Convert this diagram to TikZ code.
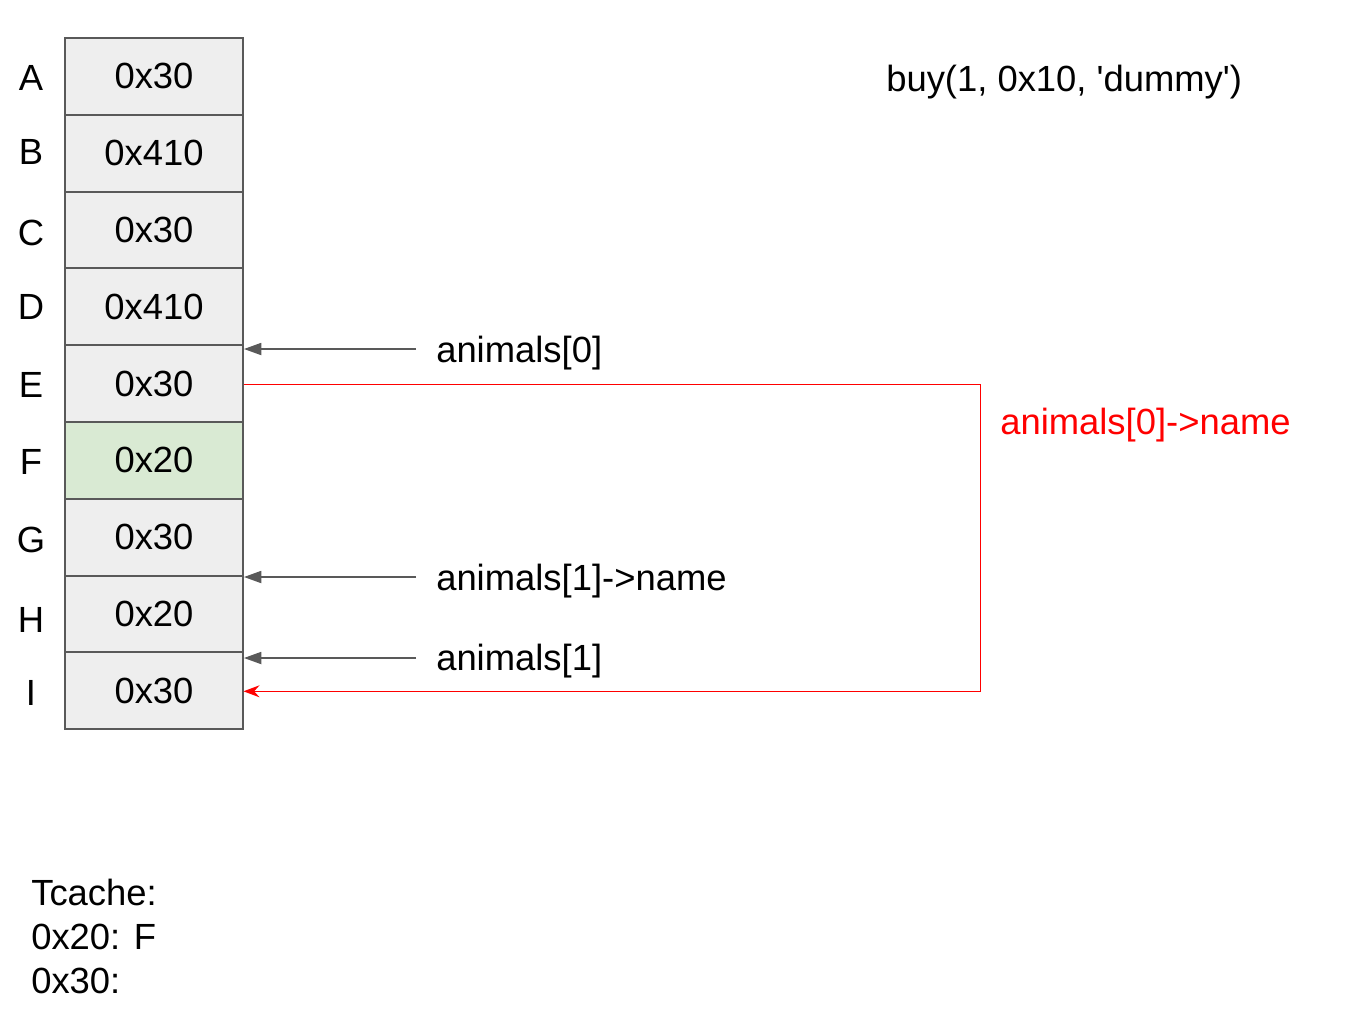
\documentclass[tikz,border=0pt]{standalone}
\usepackage{fontspec}
\setmainfont{Liberation Sans}[Ligatures=TeXOff]
\usetikzlibrary{arrows.meta}
\definecolor{cellgray}{HTML}{EEEEEE}
\definecolor{cellgreen}{HTML}{D9EAD3}
\definecolor{edgegray}{HTML}{595959}
\definecolor{redline}{HTML}{FF0000}
\begin{document}
\begin{tikzpicture}[x=0.75pt,y=-0.75pt,
  every node/.style={font=\fontsize{27.3}{33}\selectfont, inner sep=0pt},
  cell/.style={draw=edgegray, line width=1.4pt, fill=cellgray,
    minimum width=133.5pt, minimum height=57.6pt, anchor=center},
  greencell/.style={cell, fill=cellgreen},
  rowlabel/.style={anchor=base},
  txt/.style={anchor=base west},
  ptr/.style={draw=edgegray, line width=1.3pt, -{Triangle[length=13pt,width=9pt]}},
  redptr/.style={draw=redline, line width=1.2pt, -{Stealth[length=12pt,width=9pt,inset=4pt]}}
]
\useasboundingbox (0,0) rectangle (1360,1022);
% cells
\node[cell] (A) at (154,76.4) {0x30};
\node[cell] (B) at (154,153.2) {0x410};
\node[cell] (C) at (154,230.0) {0x30};
\node[cell] (D) at (154,306.8) {0x410};
\node[cell] (E) at (154,383.6) {0x30};
\node[greencell] (F) at (154,460.4) {0x20};
\node[cell] (G) at (154,537.2) {0x30};
\node[cell] (H) at (154,614.0) {0x20};
\node[cell] (I) at (154,690.8) {0x30};
% row letters
\node[rowlabel] (lA) at (31,90) {A};
\node[rowlabel] (lB) at (31,164) {B};
\node[rowlabel] (lC) at (31,245) {C};
\node[rowlabel] (lD) at (31,319) {D};
\node[rowlabel] (lE) at (31,397) {E};
\node[rowlabel] (lF) at (31,474) {F};
\node[rowlabel] (lG) at (31,552) {G};
\node[rowlabel] (lH) at (31,632) {H};
\node[rowlabel] (lI) at (31,705) {I};
% pointer labels
\node[txt] (t0) at (436,362) {animals[0]};
\node[txt] (t1n) at (436,590) {animals[1]->name};
\node[txt] (t1) at (436,670) {animals[1]};
\node[txt, text=redline] (t0n) at (1000,434) {animals[0]->name};
\node[txt] (buy) at (886,91) {buy(1, 0x10, 'dummy')};
\node[anchor=north west, align=left] (tc) at (31,879) {Tcache:\\0x20: F\\0x30:};
% pointer arrows
\coordinate (p0) at (416,349);
\coordinate (p1n) at (416,577);
\coordinate (p1) at (416,658);
\draw[ptr] (p0) -- (p0 -| E.east);
\draw[ptr] (p1n) -- (p1n -| E.east);
\draw[ptr] (p1) -- (p1 -| E.east);
% red connector
\coordinate (rs) at (243.5,384.3);
\coordinate (rc1) at (980.5,384.3);
\coordinate (rc2) at (980.5,691.3);
\coordinate (re) at (243.5,691.3);
\draw[redptr] (rs) -- (rc1) -- (rc2) -- (re);
\end{tikzpicture}
\end{document}
